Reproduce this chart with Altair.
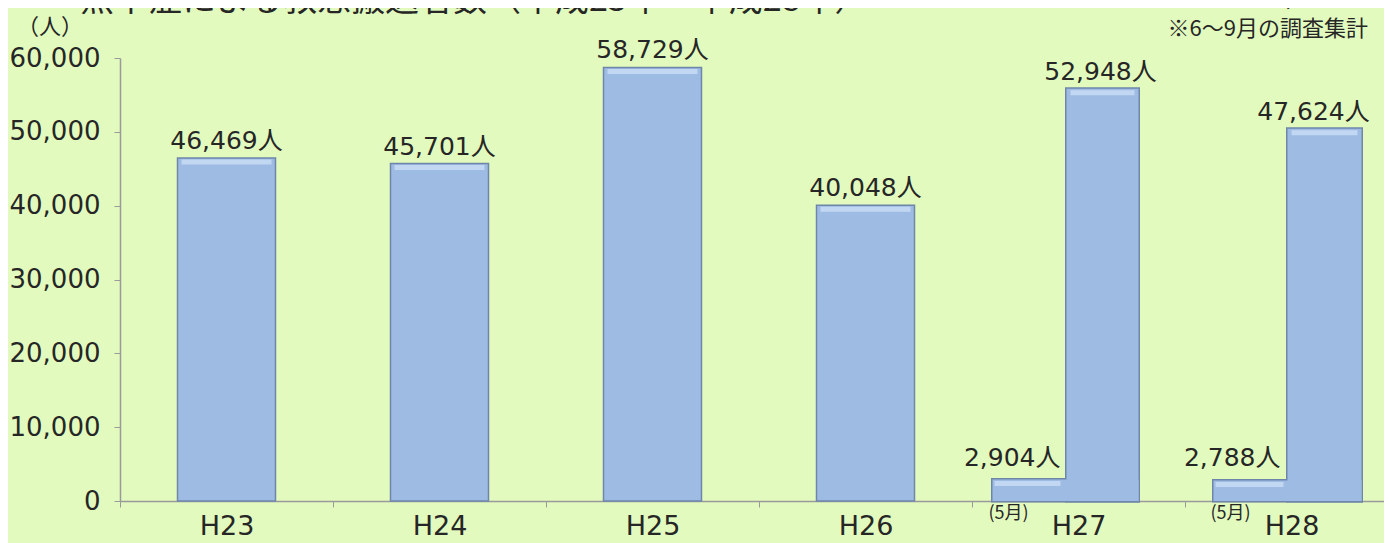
import altair as alt
import pandas as pd

# ---- data ----
years = ["H23", "H24", "H25", "H26", "H27", "H28"]
counts = [46469, 45701, 58729, 40048, 52948, 47624]      # 6-9月
may_years = ["H27", "H28"]
may_counts = [2904, 2788]                                # 5月
may_tag = "(5月)"
y_ticks = [0, 10000, 20000, 30000, 40000, 50000, 60000]
title_text = "熱中症による救急搬送者数（平成23年〜平成28年）"
unit_text = "（人）"
total_text = "搬送人員計　251,515人"
note_text = "※6〜9月の調査集計"

# ---- tables ----
may_map = dict(zip(may_years, may_counts))
df = pd.DataFrame({"year": years, "count": counts})
df["may"] = [may_map.get(y, 0) for y in years]
df["total"] = df["count"] + df["may"]
df["label"] = [f"{c:,}人" for c in counts]
may_df = pd.DataFrame({"year": may_years, "may": may_counts})
may_df["label"] = [f"{c:,}人" for c in may_counts]
may_df["tag"] = may_tag

FONT = "DejaVu Sans, Noto Sans CJK JP, sans-serif"
JFONT = "Noto Sans CJK JP, sans-serif"
BG = "#E2FABE"
FILL = "#9EBBE3"
EDGE = "#6F86AA"
HI = "#D2E3F8"
TXT = "#262626"

xs = alt.X("year:N", sort=years,
           scale=alt.Scale(domain=years, range=[0, 1278], paddingInner=0, paddingOuter=0),
           axis=alt.Axis(title=None, labelAngle=0, labelFontSize=27, labelFont=FONT,
                         labelColor=TXT, tickBand="extent", tickSize=6, labelPadding=6,
                         domainColor="#9a9a9a", tickColor="#9a9a9a", domainWidth=1.5))
ys_axis = alt.Axis(title=None, values=y_ticks, format=",d", labelFontSize=26, labelFont=FONT,
                   labelColor=TXT, tickSize=6, labelPadding=14, grid=False,
                   domainColor="#9a9a9a", tickColor="#9a9a9a", domainWidth=1.5)
yscale = alt.Scale(domain=[0, 60000], nice=False, zero=True)

base = alt.Chart(df)
single = base.transform_filter("datum.may == 0")

layers = []
# simple bars H23-H26
layers.append(single.mark_bar(width=98, fill=FILL, stroke=EDGE, strokeWidth=1.5).encode(
    x=xs, y=alt.Y("count:Q", scale=yscale, axis=ys_axis)))
layers.append(single.mark_tick(size=90, thickness=5, color=HI, yOffset=4).encode(
    x="year:N", y="count:Q"))
layers.append(single.mark_text(fontSize=25, font=FONT, color=TXT, baseline="alphabetic", dy=-9).encode(
    x="year:N", y="count:Q", text="label:N"))

# L-shaped bars (May + Jun-Sep) for H27, H28
spec = {
    "H27": dict(may_dx=-13, may_w=146, main_dx=24, main_w=72, lab_dx=22, may_lab_dx=-18, tag_dx=-90),
    "H28": dict(may_dx=-4, may_w=148, main_dx=33, main_w=74, lab_dx=22, may_lab_dx=-11, tag_dx=-81),
}
for yr, s in spec.items():
    m = alt.Chart(may_df).transform_filter(alt.datum.year == yr)
    b = base.transform_filter(alt.datum.year == yr)
    # outlines first
    layers.append(m.mark_bar(width=s["may_w"], xOffset=s["may_dx"], fill=FILL, stroke=EDGE, strokeWidth=3).encode(
        x="year:N", y="may:Q"))
    layers.append(b.mark_bar(width=s["main_w"], xOffset=s["main_dx"], fill=FILL, stroke=EDGE, strokeWidth=3).encode(
        x="year:N", y="total:Q"))
    # fills on top
    layers.append(m.mark_bar(width=s["may_w"], xOffset=s["may_dx"], fill=FILL, strokeWidth=0).encode(
        x="year:N", y="may:Q"))
    layers.append(b.mark_bar(width=s["main_w"], xOffset=s["main_dx"], fill=FILL, strokeWidth=0).encode(
        x="year:N", y="total:Q"))
    layers.append(m.mark_tick(size=s["may_w"] - 80, thickness=5, color=HI, yOffset=4,
                              xOffset=s["may_dx"] - 38).encode(x="year:N", y="may:Q"))
    layers.append(b.mark_tick(size=s["main_w"] - 8, thickness=5, color=HI, yOffset=4,
                              xOffset=s["main_dx"]).encode(x="year:N", y="total:Q"))
    layers.append(b.mark_text(fontSize=25, font=FONT, color=TXT, baseline="alphabetic",
                              dy=-9, dx=s["lab_dx"]).encode(x="year:N", y="total:Q", text="label:N"))
    layers.append(m.mark_text(fontSize=25, font=FONT, color=TXT, baseline="alphabetic", align="right",
                              dy=-14, dx=s["may_lab_dx"]).encode(x="year:N", y="may:Q", text="label:N"))
    layers.append(m.mark_text(fontSize=18, font=JFONT, color=TXT, baseline="middle", align="left",
                              dy=13, dx=s["tag_dx"]).encode(x="year:N", y=alt.datum(0), text="tag:N"))

# free texts
def free_text(txt, x, y, size, align="left", baseline="middle"):
    return alt.Chart(pd.DataFrame({"t": [txt]})).mark_text(
        fontSize=size, font=JFONT, color=TXT, align=align, baseline=baseline
    ).encode(x=alt.value(x), y=alt.value(y), text="t:N")

layers.append(free_text(title_text, -40, -47, 34, baseline="alphabetic"))
layers.append(free_text(unit_text, -70, -31, 22, align="center"))
layers.append(free_text(total_text, 1248, -54, 28, align="right", baseline="alphabetic"))
layers.append(free_text(note_text, 1248, -29, 22, align="right"))

chart = alt.layer(*layers).properties(
    width=1264, height=443,
    autosize=alt.AutoSizeParams(type="none"),
    padding={"left": 112, "top": 50, "right": 0, "bottom": 42},
    background=BG,
).configure_view(stroke=None, fill=BG)

chart.save("out.html", embed_options={"renderer": "svg", "actions": False})
